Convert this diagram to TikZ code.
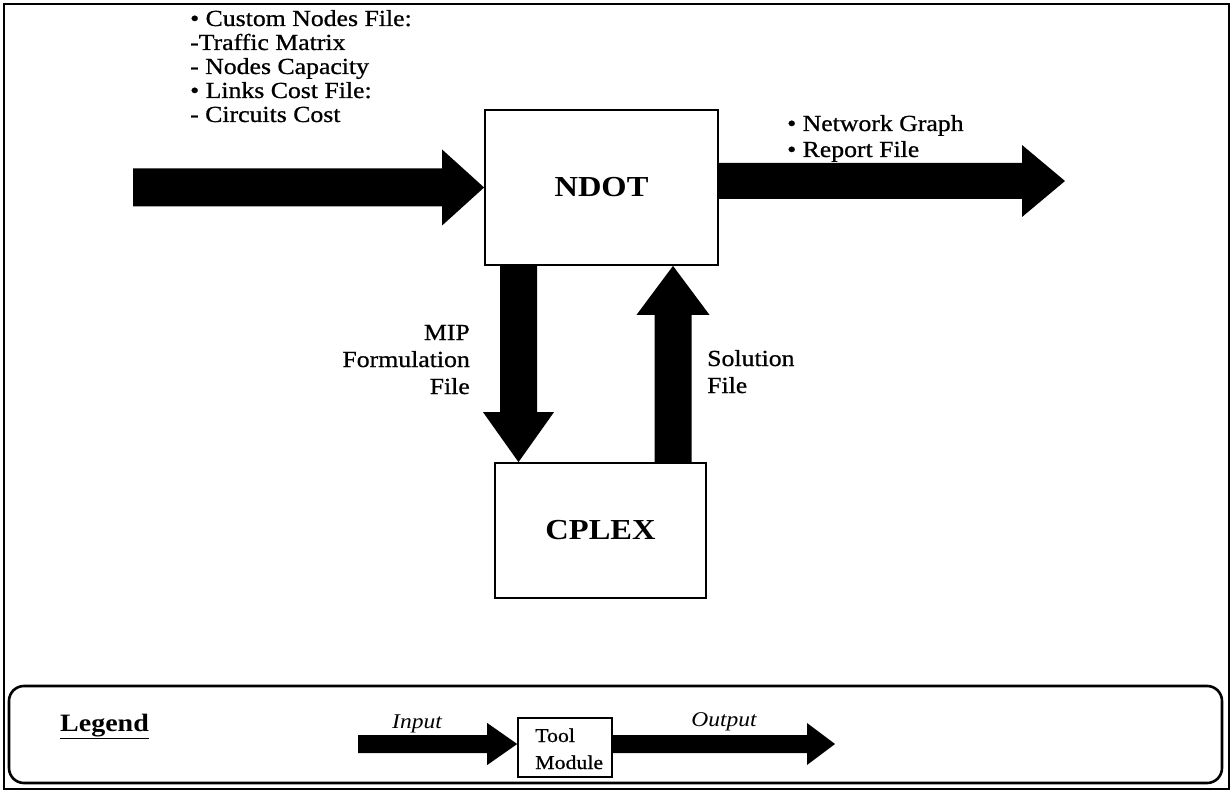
\documentclass[tikz,border=0pt]{standalone}
\usepackage{fontspec}
\setmainfont{Liberation Serif}[FakeStretch=1.12]
\usetikzlibrary{calc}
\begin{document}
\begin{tikzpicture}[x=1pt,y=-1pt,
  box/.style={draw,line width=1.8pt,inner sep=0pt},
  big/.style={font=\fontsize{29}{29}\selectfont\bfseries},
  txt/.style={font=\fontsize{23}{24}\selectfont\addfontfeatures{FakeBold=0.8},inner sep=0pt},
  leg/.style={font=\fontsize{19.5}{22}\selectfont\addfontfeatures{FakeBold=0.8},inner sep=0pt},
  fat/.style={fill=black}]
\useasboundingbox (0,0) rectangle (1231,794);
\draw[line width=2.6pt] (4,4) rectangle (1229,789);
\draw[line width=2.6pt,rounded corners=15pt] (9,686) rectangle (1222,783);

% modules
\node[box,big,minimum width=233pt,minimum height=155pt] (ndot) at (601.5,187.5) {NDOT};
\node[box,big,minimum width=211pt,minimum height=135pt] (cplex) at (600.5,530.5) {CPLEX};

% input text
\node[txt,anchor=base west] (i1) at (190,26) {• Custom Nodes File:};
\node[txt,anchor=base west] (i2) at (190,50) {-Traffic Matrix};
\node[txt,anchor=base west] (i3) at (190,74) {- Nodes Capacity};
\node[txt,anchor=base west] (i4) at (190,98) {• Links Cost File:};
\node[txt,anchor=base west] (i5) at (190,122) {- Circuits Cost};

% output text
\node[txt,anchor=base west] (o1) at (787,131) {• Network Graph};
\node[txt,anchor=base west] (o2) at (787,157) {• Report File};

% arrow labels
\node[txt,anchor=base east] (m1) at (470,340) {MIP};
\node[txt,anchor=base east] (m2) at (470,367) {Formulation};
\node[txt,anchor=base east] (m3) at (470,394) {File};
\node[txt,anchor=base west] (s1) at (707,366) {Solution};
\node[txt,anchor=base west] (s2) at (707,393) {File};

% endpoints
\coordinate (inS) at (133,187.5);
\coordinate (outT) at (1065,181);
\coordinate (downS) at (518.5,0 |- ndot.south);
\coordinate (downT) at (518.5,0 |- cplex.north);
\coordinate (upS) at (673,0 |- cplex.north);
\coordinate (upT) at (673,0 |- ndot.south);
\coordinate (outS) at (ndot.east |- outT);

% input arrow
\fill[fat] ($(inS)+(0,-19)$) -- ($(ndot.west)+(-42,-19)$) -- ($(ndot.west)+(-42,-38)$) -- (ndot.west)
  -- ($(ndot.west)+(-42,38)$) -- ($(ndot.west)+(-42,19)$) -- ($(inS)+(0,19)$) -- cycle;
% output arrow
\fill[fat] ($(outS)+(0,-18)$) -- ($(outT)+(-43,-18)$) -- ($(outT)+(-43,-36)$) -- (outT)
  -- ($(outT)+(-43,36)$) -- ($(outT)+(-43,18)$) -- ($(outS)+(0,18)$) -- cycle;
% down arrow
\fill[fat] ($(downS)+(-18.5,0)$) -- ($(downT)+(-18.5,-50)$) -- ($(downT)+(-35.5,-50)$) -- (downT)
  -- ($(downT)+(35.5,-50)$) -- ($(downT)+(18.5,-50)$) -- ($(downS)+(18.5,0)$) -- cycle;
% up arrow
\fill[fat] ($(upS)+(-18.5,0)$) -- ($(upT)+(-18.5,49)$) -- ($(upT)+(-36.5,49)$) -- (upT)
  -- ($(upT)+(36.5,49)$) -- ($(upT)+(18.5,49)$) -- ($(upS)+(18.5,0)$) -- cycle;

% legend
\node[font=\fontsize{25}{25}\selectfont\bfseries,inner sep=0pt,anchor=base west] (lg) at (60,731) {\underline{Legend}};
\node[box,line width=1.6pt,minimum width=94pt,minimum height=59pt] (tool) at (565,747.5) {};
\node[leg,anchor=base west] (t1) at (535,742) {Tool};
\node[leg,anchor=base west] (t2) at (535,769) {Module};
\node[anchor=base,inner sep=0pt,font=\fontsize{21}{22}\selectfont\itshape] (lin) at (417,728) {Input};
\node[anchor=base,inner sep=0pt,font=\fontsize{21}{22}\selectfont\itshape] (lout) at (724,726) {Output};
\coordinate (lS) at (358,744);
\coordinate (lT) at (835,744);
\coordinate (lI) at (tool.west |- lS);
\coordinate (lO) at (tool.east |- lT);
\fill[fat] ($(lS)+(0,-9)$) -- ($(lI)+(-30,-9)$) -- ($(lI)+(-30,-21)$) -- (lI)
  -- ($(lI)+(-30,21)$) -- ($(lI)+(-30,9)$) -- ($(lS)+(0,9)$) -- cycle;
\fill[fat] ($(lO)+(0,-9)$) -- ($(lT)+(-28,-9)$) -- ($(lT)+(-28,-21)$) -- (lT)
  -- ($(lT)+(-28,21)$) -- ($(lT)+(-28,9)$) -- ($(lO)+(0,9)$) -- cycle;
\end{tikzpicture}
\end{document}
